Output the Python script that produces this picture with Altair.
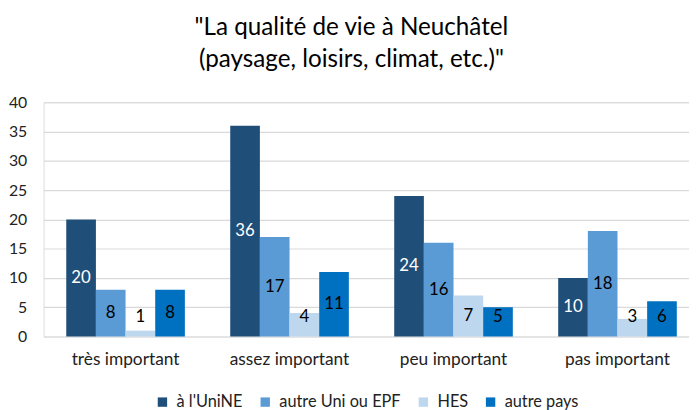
import altair as alt
import pandas as pd

categories = ["très important", "assez important", "peu important", "pas important"]
series = ["à l'UniNE", "autre Uni ou EPF", "HES", "autre pays"]
uniNE = [20, 36, 24, 10]
autre_uni = [8, 17, 16, 18]
hes = [1, 4, 7, 3]
autre_pays = [8, 11, 5, 6]
colors = ["#1F4E79", "#5B9BD5", "#BDD7EE", "#0070C0"]
y_ticks = [0, 5, 10, 15, 20, 25, 30, 35, 40]

rows = []
for s, vals in zip(series, [uniNE, autre_uni, hes, autre_pays]):
    for c, v in zip(categories, vals):
        rows.append({"category": c, "series": s, "value": v})
df = pd.DataFrame(rows)

FONT = "Lato"

x_enc = alt.X("category:N", sort=categories, title=None,
              scale=alt.Scale(range=[0, 663.6], paddingInner=0.2767, paddingOuter=0.1383),
              axis=alt.Axis(labelAngle=0, ticks=False, tickSize=0, domain=False,
                            labelPadding=14, labelFontSize=17.5, labelFont=FONT,
                            labelColor="#222222"))
xo_enc = alt.XOffset("series:N", sort=series,
                     scale=alt.Scale(domain=series, paddingInner=0, paddingOuter=0))
y_axis = alt.Axis(values=y_ticks, ticks=False, tickSize=0, labelOverlap=False,
                  domain=False, labelPadding=17, labelFontSize=16, labelFont=FONT,
                  labelColor="#222222", gridColor="#d9d9d9", gridWidth=1.2)
y_scale = alt.Scale(domain=[0, 40], nice=False)

base = alt.Chart(df)

bars = base.mark_bar().encode(
    x=x_enc,
    xOffset=xo_enc,
    y=alt.Y("value:Q", title=None, scale=y_scale, axis=y_axis),
    color=alt.Color("series:N", sort=series,
                    scale=alt.Scale(domain=series, range=colors),
                    legend=alt.Legend(title=None, orient="none", direction="horizontal",
                                      legendX=112, legendY=295, symbolType="square",
                                      symbolSize=90, symbolStrokeWidth=0, labelFontSize=16.5,
                                      labelFont=FONT, labelColor="#222222", labelOffset=6,
                                      columnPadding=14)),
)

labels = base.transform_calculate(
    pos="max(datum.value / 2, 3.4)"
).mark_text(fontSize=17, font=FONT, baseline="middle").encode(
    x=x_enc,
    xOffset=xo_enc,
    y=alt.Y("pos:Q", title=None, scale=y_scale, axis=y_axis),
    text=alt.Text("value:Q"),
    color=alt.condition(alt.FieldEqualPredicate(field="series", equal="à l'UniNE"),
                        alt.value("white"), alt.value("black")),
)

chart = alt.layer(bars, labels).properties(
    width=653,
    height=237,
    autosize=alt.AutoSizeParams(type="none"),
    padding={"left": 36, "top": 93, "right": 0, "bottom": 72},
    title=alt.TitleParams(
        text=['"La qualité de vie à Neuchâtel', '(paysage, loisirs, climat, etc.)"'],
        fontSize=24.5, font=FONT, fontWeight="normal", color="black",
        anchor="middle", dx=-15, offset=22, lineHeight=33,
    ),
).configure_view(stroke=None).configure(background="white")

chart.save("out.html", embed_options={"renderer": "svg", "actions": False})
